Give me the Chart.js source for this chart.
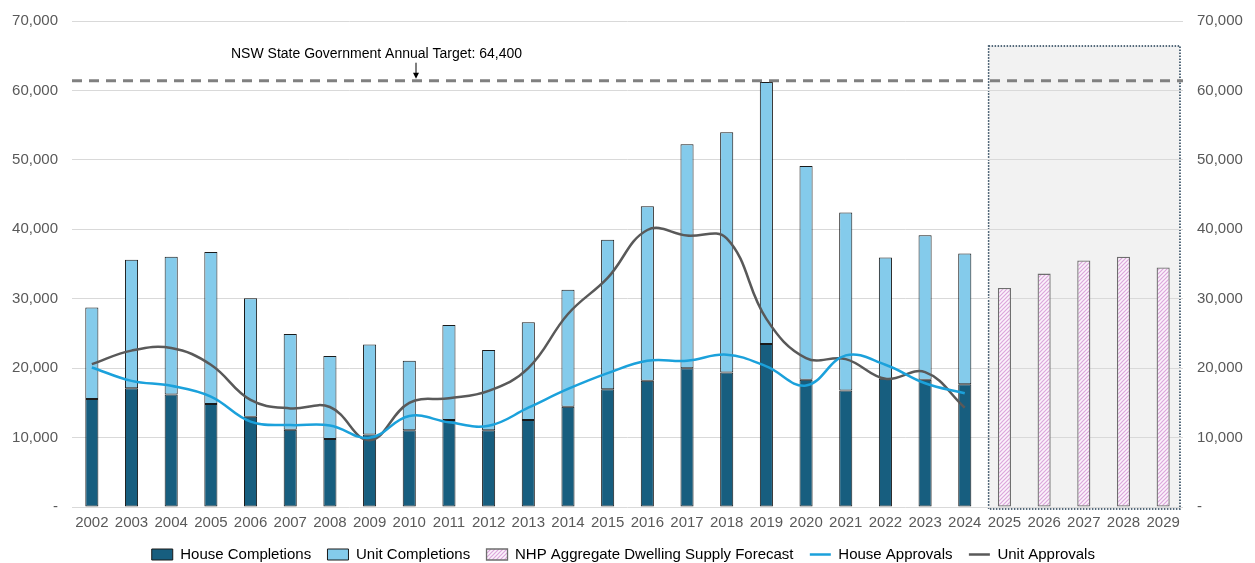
<!DOCTYPE html>
<html>
<head>
<meta charset="utf-8">
<script src="https://cdn.jsdelivr.net/npm/chart.js@4.4.1/dist/chart.umd.min.js"></script>
<style>
  html, body { margin: 0; padding: 0; background: #fff; }
  #wrap { width: 1255px; height: 563px; position: relative; }
</style>
</head>
<body>
<div id="wrap"><canvas id="chart"></canvas></div>
<script>
(function(Chart){

    // data
    var years = ['2002', '2003', '2004', '2005', '2006', '2007', '2008', '2009', '2010', '2011', '2012', '2013', '2014', '2015',
                 '2016', '2017', '2018', '2019', '2020', '2021', '2022', '2023', '2024', '2025', '2026', '2027', '2028', '2029'];

    var houseCompletions = [15560, 17100, 16190, 14840, 13000, 11120, 9810, 10430, 11070, 12520, 11070, 12520, 14450, 16960,
                            18170, 20000, 19380, 23480, 18320, 16770, 18460, 18320, 17680, null, null, null, null, null];
    var unitCompletions = [13190, 18500, 19850, 21880, 17060, 13810, 11930, 12960, 10000, 13710, 11540, 14100, 16850, 21540,
                           25160, 32230, 34590, 37740, 30810, 25650, 17480, 20810, 18840, null, null, null, null, null];
    var supplyForecast = [null, null, null, null, null, null, null, null, null, null, null, null, null, null,
                          null, null, null, null, null, null, null, null, null, 31550, 33620, 35510, 36040, 34490];
    var houseApprovals = [20100, 18170, 17450, 15900, 12300, 11800, 11750, 9960, 13100, 12200, 11700, 14300, 17000, 19280,
                          21070, 21070, 21940, 20250, 17490, 21840, 20490, 17830, 16380, null, null, null, null, null];
    var unitApprovals = [20580, 22520, 22900, 20490, 15420, 14200, 14400, 9620, 15000, 15650, 16720, 20000, 27800, 33000,
                         39900, 39090, 38700, 27100, 21450, 21300, 18460, 19420, 14300, null, null, null, null, null];

    var targetLine = 61400;
    var targetLabel = 'NSW State Government Annual Target: 64,400';
    var forecastYears = ['2025', '2029'];
    var shadeTop = 66400;

    var yMax = 70000;
    var yStep = 10000;

    var font = 'Liberation Sans, Arial, sans-serif';

    function hatch() {
        var c = document.createElement('canvas');
        c.width = 4; c.height = 4;
        var g = c.getContext('2d');
        g.fillStyle = '#fbf3fb';
        g.fillRect(0, 0, 4, 4);
        g.strokeStyle = '#dca6dc';
        g.lineWidth = 1.2;
        g.beginPath();
        g.moveTo(0, 4); g.lineTo(4, 0);
        g.moveTo(-1, 1); g.lineTo(1, -1);
        g.moveTo(3, 5); g.lineTo(5, 3);
        g.stroke();
        return g.createPattern(c, 'repeat');
    }

    function tickLabel(v) {
        return v === 0 ? '-' : v.toLocaleString('en-US');
    }

    function fixAxis(s) {
        s.width = 72;
        s.paddingTop = 0;
        s.paddingBottom = 0;
    }

    // grey forecast panel behind the bars, target line + label on top
    var shadePlugin = {
        id: 'shade',
        beforeDraw: function(chart) {
            var x = chart.scales.x, y = chart.scales.y, ctx = chart.ctx;
            var half = (x.getPixelForValue(1) - x.getPixelForValue(0)) / 2;
            var left = x.getPixelForValue(years.indexOf(forecastYears[0])) - half + 4;
            var right = x.getPixelForValue(years.indexOf(forecastYears[1])) + half - 3;
            var top = y.getPixelForValue(shadeTop);
            var bottom = y.getPixelForValue(0) + 2;
            ctx.save();
            ctx.fillStyle = '#f2f2f2';
            ctx.fillRect(left, top, right - left, bottom - top);
            ctx.strokeStyle = '#1f3b52';
            ctx.lineWidth = 1.5;
            ctx.setLineDash([1.5, 1.5]);
            ctx.strokeRect(left, top, right - left, bottom - top);
            ctx.restore();
        },
        afterDatasetsDraw: function(chart) {
            var y = chart.scales.y, area = chart.chartArea, ctx = chart.ctx;
            var ty = y.getPixelForValue(targetLine);
            ctx.save();
            ctx.strokeStyle = '#808080';
            ctx.lineWidth = 3;
            ctx.setLineDash([10, 7]);
            ctx.beginPath();
            ctx.moveTo(area.left, ty);
            ctx.lineTo(area.right, ty);
            ctx.stroke();
            ctx.setLineDash([]);

            ctx.font = '14px ' + font;
            ctx.fillStyle = '#000';
            ctx.textBaseline = 'middle';
            ctx.fillText(targetLabel, area.left + 159, ty - 27);

            // little arrow down to the line
            var ax = area.left + 344;
            ctx.strokeStyle = '#000';
            ctx.lineWidth = 1;
            ctx.beginPath();
            ctx.moveTo(ax, ty - 18);
            ctx.lineTo(ax, ty - 5);
            ctx.stroke();
            ctx.beginPath();
            ctx.moveTo(ax - 3, ty - 8);
            ctx.lineTo(ax + 3, ty - 8);
            ctx.lineTo(ax, ty - 2);
            ctx.closePath();
            ctx.fill();
            ctx.restore();
        }
    };

    // default legend items, with a little trailing space for wider gaps
    function legendItems(chart) {
        var items = Chart.defaults.plugins.legend.labels.generateLabels(chart);
        items.forEach(function(it) { it.text = it.text + '  '; });
        return items;
    }

    var ctx = document.getElementById('chart').getContext('2d');

    var chart = new Chart(ctx, {
        type: 'bar',
        data: {
            labels: years,
            datasets: [{
                label: 'House Completions',
                data: houseCompletions,
                backgroundColor: '#175e7f',
                borderColor: '#1a1a1a',
                borderWidth: 1,
                borderSkipped: false,
                pointStyle: 'rect',
                stack: 's',
                order: 3
            }, {
                label: 'Unit Completions',
                data: unitCompletions,
                backgroundColor: '#84cbeb',
                borderColor: '#1a1a1a',
                borderWidth: 1,
                borderSkipped: false,
                pointStyle: 'rect',
                stack: 's',
                order: 3
            }, {
                label: 'NHP Aggregate Dwelling Supply Forecast',
                data: supplyForecast,
                backgroundColor: hatch(),
                borderColor: '#6e6e6e',
                borderWidth: 1.3,
                borderSkipped: false,
                pointStyle: 'rect',
                stack: 's',
                order: 3
            }, {
                type: 'line',
                label: 'House Approvals',
                data: houseApprovals,
                yAxisID: 'y2',
                borderColor: '#1ba1db',
                backgroundColor: '#1ba1db',
                borderWidth: 2.5,
                pointRadius: 0,
                tension: 0.4,
                pointStyle: 'line',
                order: 1
            }, {
                type: 'line',
                label: 'Unit Approvals',
                data: unitApprovals,
                yAxisID: 'y2',
                borderColor: '#595959',
                backgroundColor: '#595959',
                borderWidth: 2.5,
                pointRadius: 0,
                tension: 0.4,
                pointStyle: 'line',
                order: 2
            }]
        },
        options: {
            responsive: true,
            maintainAspectRatio: false,
            animation: false,
            layout: { padding: { top: 21, left: 0, right: 0, bottom: -9 } },
            datasets: {
                bar: { categoryPercentage: 1, barPercentage: 0.33 }
            },
            scales: {
                x: {
                    stacked: true,
                    grid: { display: false, drawTicks: false },
                    border: { display: false },
                    ticks: { color: '#595959', font: { family: font, size: 15 }, padding: 7, maxRotation: 0, autoSkip: false }
                },
                y: {
                    stacked: true,
                    min: 0, max: yMax,
                    border: { display: false },
                    grid: { color: '#d9d9d9', drawTicks: false },
                    ticks: { stepSize: yStep, color: '#595959', font: { family: font, size: 15 }, padding: 14, callback: tickLabel },
                    afterFit: fixAxis
                },
                y2: {
                    position: 'right',
                    min: 0, max: yMax,
                    border: { display: false },
                    grid: { display: false, drawTicks: false },
                    ticks: { stepSize: yStep, color: '#595959', font: { family: font, size: 15 }, padding: 14, callback: tickLabel },
                    afterFit: fixAxis
                }
            },
            plugins: {
                legend: {
                    position: 'bottom',
                    labels: {
                        usePointStyle: true,
                        pointStyleWidth: 21,
                        boxHeight: 11,
                        padding: 8,
                        color: '#000',
                        font: { family: font, size: 15 },
                        generateLabels: legendItems,
                        sort: function(a, b) { return a.datasetIndex - b.datasetIndex; }
                    }
                },
                tooltip: { enabled: false }
            }
        },
        plugins: [shadePlugin]
    });

})(Chart);
</script>
</body>
</html>
